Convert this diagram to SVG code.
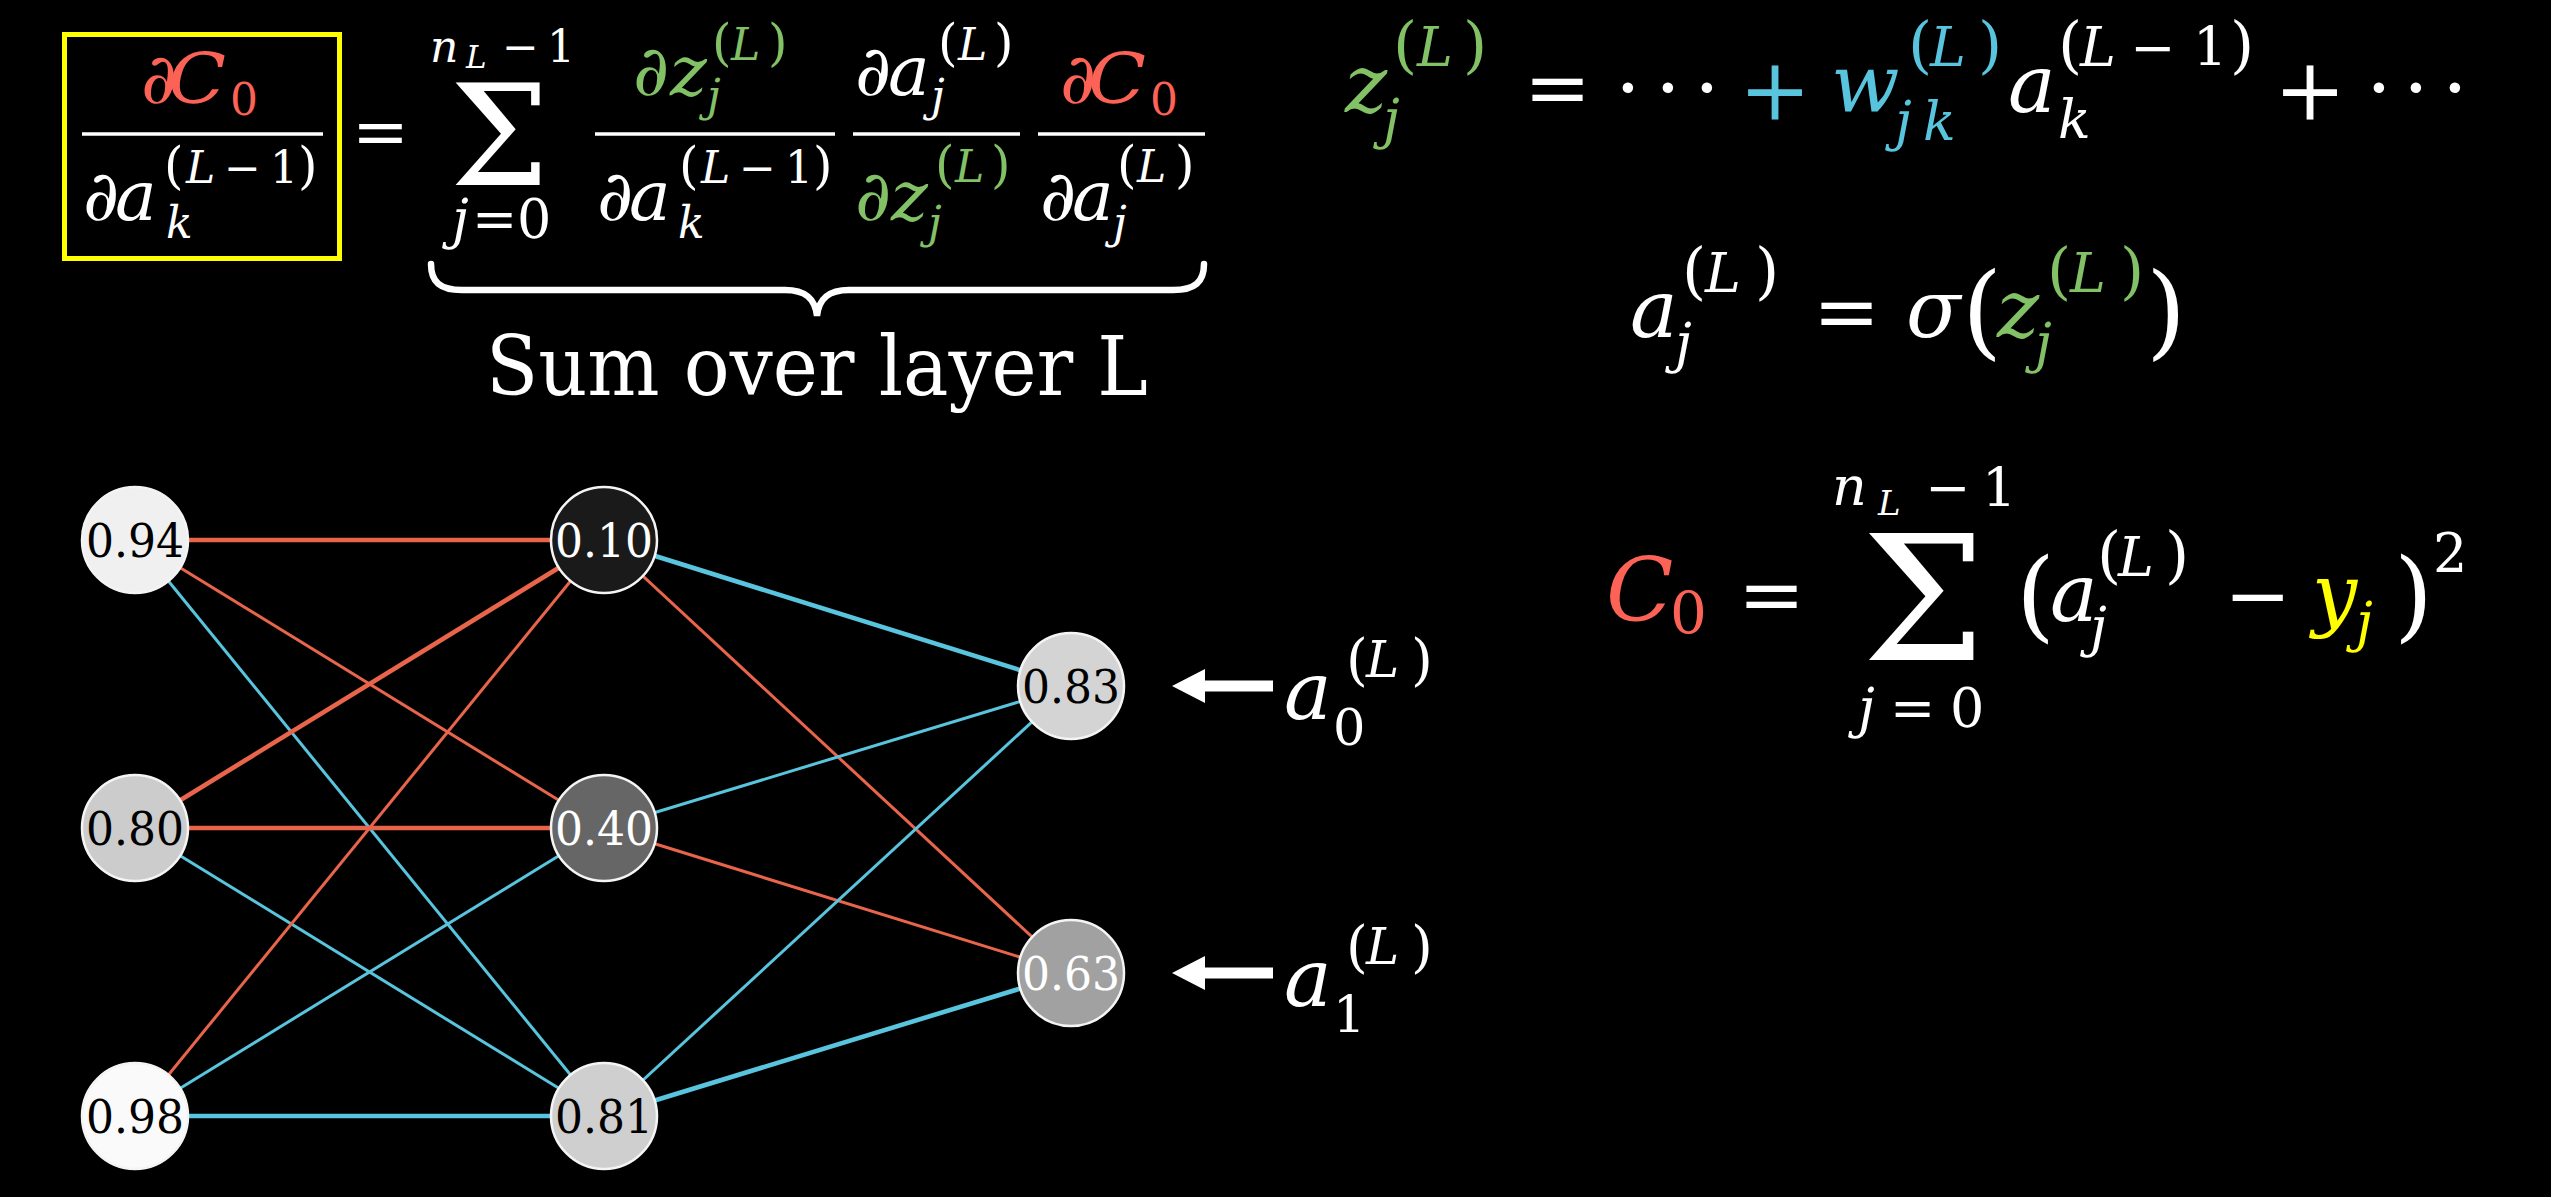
<svg xmlns="http://www.w3.org/2000/svg" width="2551" height="1197" viewBox="0 0 2551 1197" font-family="DejaVu Serif, serif">
<style>
text{font-family:'DejaVu Serif',serif;fill:#fff}
.i{font-style:italic}
.r{fill:#FC6255}.g{fill:#83C167}.b{fill:#58C4DD}.y{fill:#FFFF00}.d{fill:#000}
.M{font-size:70px}.S{font-size:44px}.P{font-size:50px}
.R{font-size:80px}.RS{font-size:54px}.RP{font-size:62px}.BIG{font-size:103px}
.bar{stroke:#fff;stroke-width:3.5}
.er{stroke:#E8654C}.eb{stroke:#58C4DD}
.tk{stroke-width:4.6}.tn{stroke-width:3}
.node circle{stroke:#f4f4f4;stroke-width:2.5}
.num{font-size:47px;text-anchor:middle}
.c{text-anchor:middle}
</style>
<defs>
<path id="arr" d="M0 0 L33 -17 L33 -5.5 L101 -5.5 L101 5.5 L33 5.5 L33 17 Z" fill="#fff"/>
</defs>
<rect width="2551" height="1197" fill="#000"/>

<g id="chain-rule">
<rect x="64.5" y="34.5" width="275" height="224" fill="none" stroke="#FFFF00" stroke-width="5"/>
<text class="M r" x="141" y="103">∂</text>
<text class="M r i" x="168" y="103" textLength="58" lengthAdjust="spacingAndGlyphs">C</text>
<text class="S r" x="230" y="115">0</text>
<line class="bar" x1="82" y1="134" x2="323" y2="134"/>
<text class="M" x="83" y="220">∂</text>
<text class="M i" x="115" y="220">a</text>
<text class="P" x="164" y="183">(</text>
<text class="S i" x="186" y="183">L</text>
<text class="S" x="224" y="183">−</text>
<text class="S" x="270" y="183">1</text>
<text class="P" x="298" y="183">)</text>
<text class="S i" x="166" y="238">k</text>

<text style="font-size:68px" x="352" y="155">=</text>

<text class="S i" x="430" y="62">n</text>
<text class="i" style="font-size:31px" x="466" y="68">L</text>
<text class="S" x="502" y="62">−</text>
<text class="S" x="547" y="62">1</text>
<text style="font-size:140px" x="450" y="185">Σ</text>
<text class="i" style="font-size:54px" x="452" y="238">j</text>
<text style="font-size:54px" x="472" y="238">=</text>
<text style="font-size:54px" x="517" y="238">0</text>

<text class="M g" x="633" y="95">∂</text>
<text class="M g i" x="670" y="95">z</text>
<text class="P g" x="712" y="60">(</text>
<text class="S g i" x="731" y="60">L</text>
<text class="P g" x="768" y="60">)</text>
<text class="S g i" x="707" y="111">j</text>
<line class="bar" x1="595" y1="134" x2="835" y2="134"/>
<text class="M" x="597" y="220">∂</text>
<text class="M i" x="629" y="220">a</text>
<text class="P" x="679" y="183">(</text>
<text class="S i" x="701" y="183">L</text>
<text class="S" x="739" y="183">−</text>
<text class="S" x="785" y="183">1</text>
<text class="P" x="813" y="183">)</text>
<text class="S i" x="678" y="238">k</text>

<text class="M" x="855" y="95">∂</text>
<text class="M i" x="888" y="95">a</text>
<text class="P" x="938" y="60">(</text>
<text class="S i" x="958" y="60">L</text>
<text class="P" x="994" y="60">)</text>
<text class="S i" x="931" y="111">j</text>
<line class="bar" x1="853" y1="134" x2="1020" y2="134"/>
<text class="M g" x="855" y="220">∂</text>
<text class="M g i" x="891" y="220">z</text>
<text class="P g" x="935" y="182">(</text>
<text class="S g i" x="955" y="182">L</text>
<text class="P g" x="991" y="182">)</text>
<text class="S g i" x="928" y="238">j</text>

<text class="M r" x="1060" y="103">∂</text>
<text class="M r i" x="1088" y="103" textLength="58" lengthAdjust="spacingAndGlyphs">C</text>
<text class="S r" x="1150" y="115">0</text>
<line class="bar" x1="1038" y1="134" x2="1205" y2="134"/>
<text class="M" x="1040" y="220">∂</text>
<text class="M i" x="1072" y="220">a</text>
<text class="P" x="1117" y="182">(</text>
<text class="S i" x="1137" y="182">L</text>
<text class="P" x="1175" y="182">)</text>
<text class="S i" x="1113" y="238">j</text>

<path d="M431 264 C431 282 440 290 462 290 L785 290 C805 290 815 298 817 316 C819 298 829 290 849 290 L1173 290 C1195 290 1204 282 1204 264" fill="none" stroke="#fff" stroke-width="6.5" stroke-linecap="round"/>
<text style="font-size:82px" x="817" y="395" text-anchor="middle" textLength="662" lengthAdjust="spacingAndGlyphs">Sum over layer L</text>
</g>

<g id="formula-z">
<text class="R g i" x="1345" y="112">z</text>
<text class="RP g" x="1393" y="66">(</text>
<text class="RS g i" x="1417" y="66">L</text>
<text class="RP g" x="1463" y="66">)</text>
<text class="RS g i" x="1383" y="138">j</text>
<text class="R" x="1524" y="115">=</text>
<text class="R c" x="1628" y="116">·</text>
<text class="R c" x="1668" y="116">·</text>
<text class="R c" x="1707" y="116">·</text>
<text class="b c" style="font-size:86px" x="1775" y="120">+</text>
<text class="R b i" x="1831" y="112">w</text>
<text class="RP b" x="1908" y="66">(</text>
<text class="RS b i" x="1930" y="66">L</text>
<text class="RP b" x="1978" y="66">)</text>
<text class="RS b i" x="1895" y="140">j</text>
<text class="RS b i" x="1923" y="140">k</text>
<text class="R i" x="2008" y="112">a</text>
<text class="RP" x="2058" y="66">(</text>
<text class="RS i" x="2080" y="66">L</text>
<text class="RS" x="2130" y="66">−</text>
<text class="RS" x="2193" y="66">1</text>
<text class="RP" x="2230" y="66">)</text>
<text class="RS i" x="2058" y="138">k</text>
<text class="c" style="font-size:86px" x="2310" y="120">+</text>
<text class="R c" x="2379" y="116">·</text>
<text class="R c" x="2416" y="116">·</text>
<text class="R c" x="2455" y="116">·</text>
</g>

<g id="formula-a">
<text class="R i" x="1630" y="337">a</text>
<text class="RP" x="1682" y="292">(</text>
<text class="RS i" x="1705" y="292">L</text>
<text class="RP" x="1755" y="292">)</text>
<text class="RS i" x="1675" y="362">j</text>
<text class="R" x="1813" y="339">=</text>
<text class="R i" x="1906" y="337">σ</text>
<text class="BIG" x="1962" y="346">(</text>
<text class="R g i" x="1997" y="337">z</text>
<text class="RP g" x="2047" y="292">(</text>
<text class="RS g i" x="2070" y="292">L</text>
<text class="RP g" x="2120" y="292">)</text>
<text class="RS g i" x="2035" y="362">j</text>
<text class="BIG" x="2146" y="346">)</text>
</g>

<g id="formula-cost">
<text class="r i" style="font-size:88px" x="1606" y="621">C</text>
<text class="r" style="font-size:58px" x="1670" y="633">0</text>
<text class="R" x="1738" y="622">=</text>
<text class="RS i" x="1832" y="505">n</text>
<text class="i" style="font-size:34px" x="1878" y="515">L</text>
<text class="RS" x="1925" y="506">−</text>
<text class="RS" x="1982" y="507">1</text>
<text style="font-size:174px" x="1862" y="660">Σ</text>
<text class="RS i" x="1858" y="727">j</text>
<text class="RS" x="1890" y="727">=</text>
<text class="RS" x="1950" y="727">0</text>
<text style="font-size:100px" x="2016" y="629">(</text>
<text class="R i" x="2050" y="621">a</text>
<text class="RP" x="2097" y="576">(</text>
<text class="RS i" x="2118" y="576">L</text>
<text class="RP" x="2165" y="576">)</text>
<text class="RS i" x="2090" y="646">j</text>
<text class="R" x="2224" y="623">−</text>
<text class="R y i" x="2312" y="621">y</text>
<text class="RS y i" x="2356" y="641">j</text>
<text style="font-size:100px" x="2394" y="629">)</text>
<text class="RS" x="2433" y="572">2</text>
</g>

<g id="connectors" fill="none">
<line class="er tk" x1="135" y1="540" x2="604" y2="540"/>
<line class="er tn" x1="135" y1="540" x2="604" y2="828"/>
<line class="eb tn" x1="135" y1="540" x2="604" y2="1116"/>
<line class="er tk" x1="135" y1="828" x2="604" y2="540"/>
<line class="er tk" x1="135" y1="828" x2="604" y2="828"/>
<line class="eb tn" x1="135" y1="828" x2="604" y2="1116"/>
<line class="er tn" x1="135" y1="1116" x2="604" y2="540"/>
<line class="eb tn" x1="135" y1="1116" x2="604" y2="828"/>
<line class="eb tk" x1="135" y1="1116" x2="604" y2="1116"/>
<line class="eb tk" x1="604" y1="540" x2="1071" y2="686"/>
<line class="er tn" x1="604" y1="540" x2="1071" y2="973"/>
<line class="eb tn" x1="604" y1="828" x2="1071" y2="686"/>
<line class="er tn" x1="604" y1="828" x2="1071" y2="973"/>
<line class="eb tn" x1="604" y1="1116" x2="1071" y2="686"/>
<line class="eb tk" x1="604" y1="1116" x2="1071" y2="973"/>
</g>

<g id="node-in-0" class="node"><circle cx="135" cy="540" r="53" fill="#f0f0f0"/><text class="num d" x="135" y="557" textLength="98" lengthAdjust="spacingAndGlyphs">0.94</text></g>
<g id="node-in-1" class="node"><circle cx="135" cy="828" r="53" fill="#cccccc"/><text class="num d" x="135" y="845" textLength="98" lengthAdjust="spacingAndGlyphs">0.80</text></g>
<g id="node-in-2" class="node"><circle cx="135" cy="1116" r="53" fill="#fafafa"/><text class="num d" x="135" y="1133" textLength="98" lengthAdjust="spacingAndGlyphs">0.98</text></g>
<g id="node-hid-0" class="node"><circle cx="604" cy="540" r="53" fill="#1a1a1a"/><text class="num" x="604" y="557" textLength="98" lengthAdjust="spacingAndGlyphs">0.10</text></g>
<g id="node-hid-1" class="node"><circle cx="604" cy="828" r="53" fill="#666666"/><text class="num" x="604" y="845" textLength="98" lengthAdjust="spacingAndGlyphs">0.40</text></g>
<g id="node-hid-2" class="node"><circle cx="604" cy="1116" r="53" fill="#cfcfcf"/><text class="num d" x="604" y="1133" textLength="98" lengthAdjust="spacingAndGlyphs">0.81</text></g>
<g id="node-out-0" class="node"><circle cx="1071" cy="686" r="53" fill="#d4d4d4"/><text class="num d" x="1071" y="703" textLength="98" lengthAdjust="spacingAndGlyphs">0.83</text></g>
<g id="node-out-1" class="node"><circle cx="1071" cy="973" r="53" fill="#a1a1a1"/><text class="num" x="1071" y="990" textLength="98" lengthAdjust="spacingAndGlyphs">0.63</text></g>

<g id="label-a0">
<use href="#arr" x="1172" y="686"/>
<text class="i" style="font-size:80px" x="1284" y="719">a</text>
<text style="font-size:51px" x="1333" y="745">0</text>
<text style="font-size:56px" x="1346" y="679">(</text>
<text class="i" style="font-size:50px" x="1366" y="677">L</text>
<text style="font-size:56px" x="1411" y="679">)</text>
</g>
<g id="label-a1">
<use href="#arr" x="1172" y="973"/>
<text class="i" style="font-size:80px" x="1284" y="1006">a</text>
<text style="font-size:51px" x="1333" y="1032">1</text>
<text style="font-size:56px" x="1346" y="966">(</text>
<text class="i" style="font-size:50px" x="1366" y="964">L</text>
<text style="font-size:56px" x="1411" y="966">)</text>
</g>
</svg>
